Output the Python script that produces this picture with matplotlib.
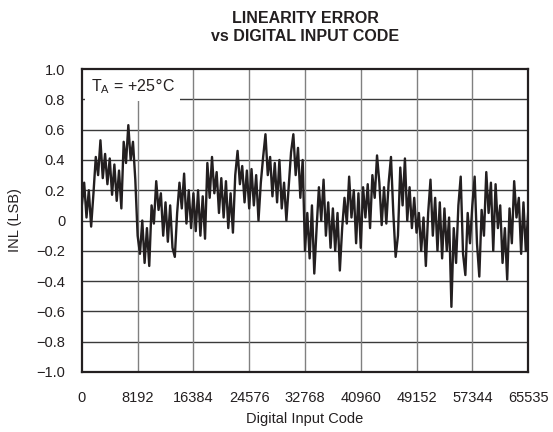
import numpy as np
import matplotlib
matplotlib.use('Agg')
import matplotlib.pyplot as plt

plt.rcParams['font.family'] = ['Liberation Sans', 'DejaVu Sans']

# INL values, 24 samples per 8192-code section
inl = [
    0.10, 0.25, 0.02, 0.20, -0.04, 0.18, 0.42, 0.30, 0.53, 0.28, 0.44, 0.24,
    0.41, 0.17, 0.37, 0.13, 0.33, 0.08, 0.52, 0.38, 0.63, 0.40, 0.52, 0.27,
    -0.10, -0.22, 0.00, -0.28, -0.05, -0.30, 0.10, -0.02, 0.26, 0.07, 0.18, -0.10,
    0.12, -0.14, 0.10, -0.18, -0.24, 0.05, 0.25, 0.08, 0.31, -0.02, 0.20, -0.05,
    0.18, -0.07, 0.20, -0.10, 0.16, -0.12, 0.38, 0.15, 0.42, 0.18, 0.32, 0.05,
    0.28, 0.02, 0.26, -0.05, 0.18, -0.08, 0.30, 0.46, 0.24, 0.36, 0.12, 0.33,
    0.08, 0.34, 0.10, 0.30, 0.00, 0.25, 0.42, 0.57, 0.30, 0.42, 0.16, 0.38,
    0.12, 0.40, 0.08, 0.25, 0.00, 0.22, 0.45, 0.57, 0.30, 0.48, 0.15, 0.40,
    -0.20, 0.05, -0.25, 0.10, -0.35, -0.05, 0.22, 0.00, 0.27, -0.10, 0.12, -0.18,
    0.08, -0.20, 0.05, -0.33, -0.05, 0.15, -0.02, 0.29, 0.02, 0.20, -0.15, 0.18,
    -0.18, 0.22, 0.02, 0.24, -0.05, 0.30, 0.15, 0.43, 0.25, -0.03, 0.22, -0.02,
    0.25, 0.42, 0.05, -0.24, -0.10, 0.35, 0.10, 0.41, 0.00, 0.22, -0.05, 0.15,
    -0.08, 0.05, -0.20, 0.02, -0.30, 0.05, 0.27, -0.10, 0.15, -0.20, 0.12, -0.25,
    0.08, -0.20, 0.02, -0.57, -0.05, -0.28, 0.10, 0.29, -0.22, -0.36, 0.05, -0.15,
    0.10, 0.29, -0.15, -0.37, 0.07, -0.10, 0.32, 0.05, 0.25, -0.20, 0.24, -0.05,
    0.10, -0.28, -0.05, -0.39, 0.08, -0.15, 0.26, 0.02, 0.15, -0.22, 0.12, -0.20,
    0.05,
]
codes = np.linspace(0, 65535, len(inl))

xticks = [0, 8192, 16384, 24576, 32768, 40960, 49152, 57344, 65535]
yticks = [-1.0, -0.8, -0.6, -0.4, -0.2, 0, 0.2, 0.4, 0.6, 0.8, 1.0]
ylabels = ['\u22121.0', '\u22120.8', '\u22120.6', '\u22120.4', '\u22120.2', '0',
           '0.2', '0.4', '0.6', '0.8', '1.0']

fig = plt.figure(figsize=(5.53, 4.32), dpi=100)
ax = fig.add_axes([0.148, 0.139, 0.807, 0.701])

for yv in yticks[1:-1]:
    ax.axhline(yv, color='#3a3a3a', lw=1.0, zorder=1)
for xv in xticks[1:-1]:
    ax.axvline(xv, color='#808080', lw=1.0, zorder=1)

ax.plot(codes, inl, color='#231f20', lw=1.7, zorder=3)

ax.set_xlim(0, 65535)
ax.set_ylim(-1.0, 1.0)
ax.set_xticks(xticks)
ax.set_xticklabels([str(v) for v in xticks])
ax.set_yticks(yticks)
ax.set_yticklabels(ylabels)
ax.tick_params(length=0, labelsize=10.5, colors='#231f20')
ax.tick_params(axis='x', pad=14)
ax.tick_params(axis='y', pad=12)
for s in ax.spines.values():
    s.set_linewidth(1.6)
    s.set_color('#231f20')
    s.set_zorder(5)

ax.text(0.02, 0.945, r'T$_\mathregular{A}$ = +25$\degree$C', transform=ax.transAxes,
        fontsize=11.5, va='center', ha='left', color='#231f20', zorder=2,
        bbox=dict(facecolor='white', edgecolor='none', pad=4))

ax.set_xlabel('Digital Input Code', fontsize=10.5, color='#231f20', labelpad=5)
ax.set_ylabel('INL (LSB)', fontsize=10.5, color='#231f20', labelpad=10)
ax.set_title('LINEARITY ERROR\nvs DIGITAL INPUT CODE', fontsize=11.5, fontweight='bold',
             color='#231f20', pad=20, linespacing=1.3)

fig.savefig('out.png', dpi=100)
